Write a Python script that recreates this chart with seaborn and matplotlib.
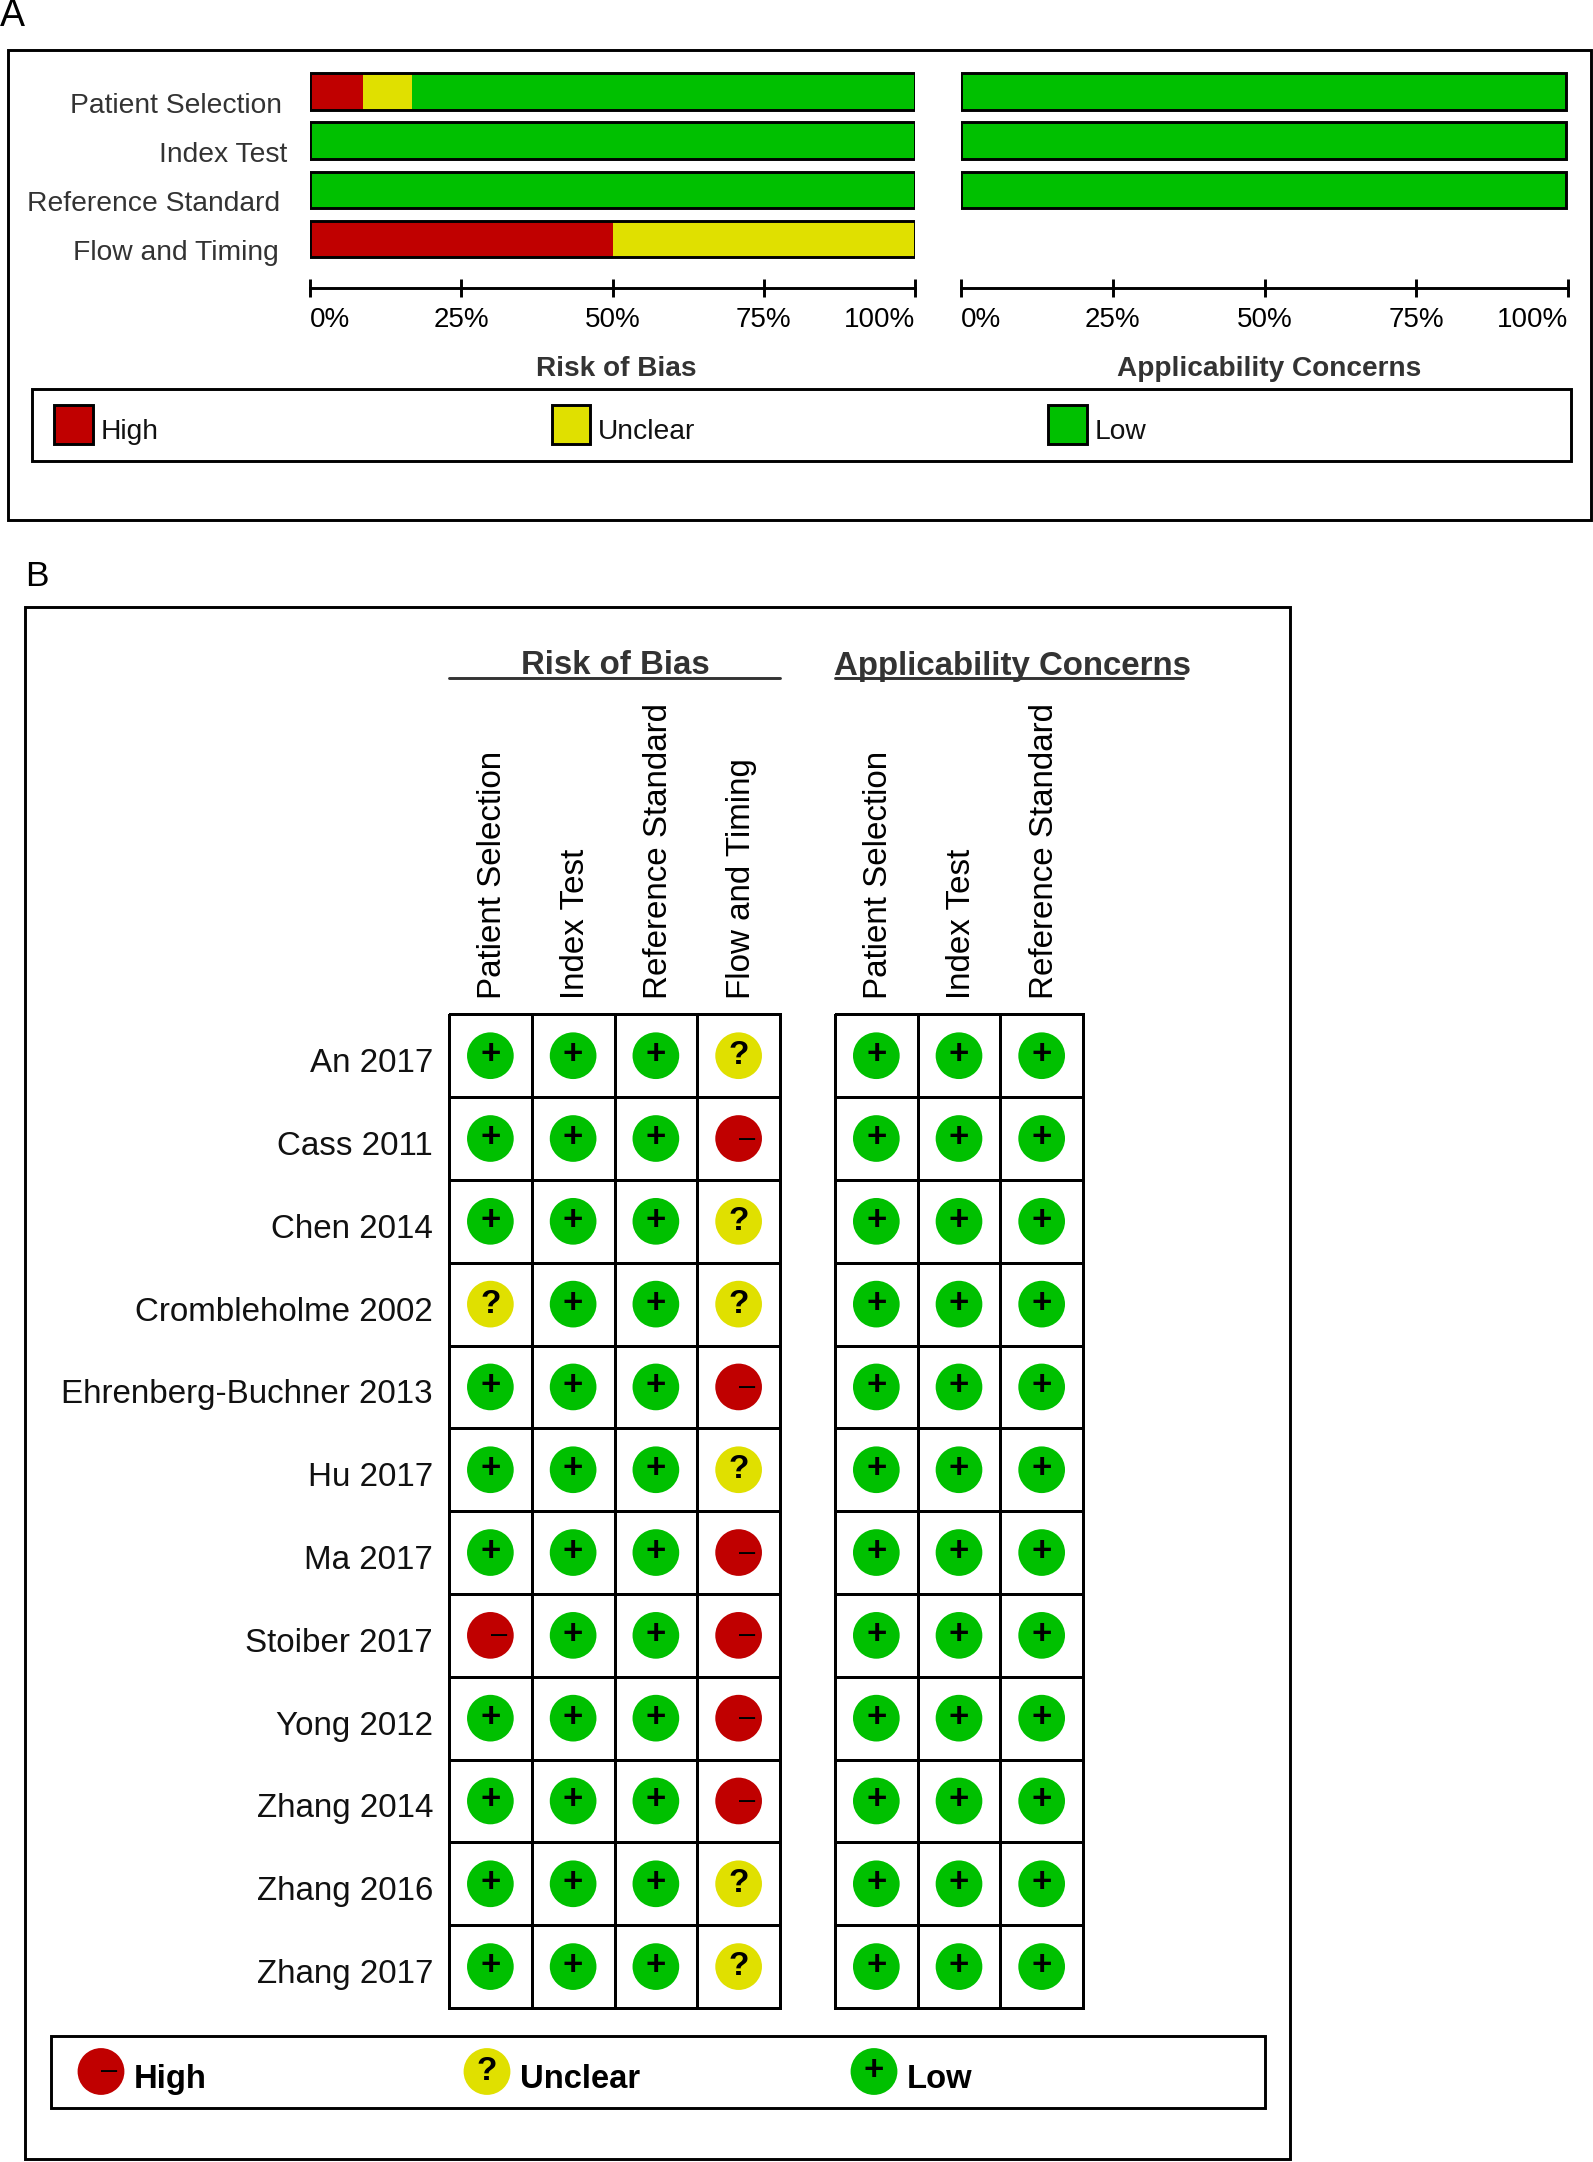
"""QUADAS-2 risk of bias summary: stacked bars (A) and per-study grid (B)."""

import numpy as np
import pandas as pd
import seaborn as sns
import matplotlib.pyplot as plt
from matplotlib.patches import Rectangle, Circle
from matplotlib.transforms import ScaledTranslation

# ---------------------------------------------------------------------
# Data
# ---------------------------------------------------------------------
DOMAINS = ["Patient Selection", "Index Test", "Reference Standard", "Flow and Timing"]
RISK_HIGH = [8.8, 0, 0, 50]
RISK_UNCLEAR = [8.1, 0, 0, 50]
RISK_LOW = [83.1, 100, 100, 0]
APPLIC_LOW = [99.6, 99.6, 99.6, np.nan]

PCT_TICKS = [0, 25, 50, 75, 100]
PCT_LABELS = ["0%", "25%", "50%", "75%", "100%"]

STUDIES = [
    "An 2017", "Cass 2011", "Chen 2014", "Crombleholme 2002",
    "Ehrenberg-Buchner 2013", "Hu 2017", "Ma 2017", "Stoiber 2017",
    "Yong 2012", "Zhang 2014", "Zhang 2016", "Zhang 2017",
]
L, U, H = "Low", "Unclear", "High"
RISK_PATIENT = [L, L, L, U, L, L, L, H, L, L, L, L]
RISK_INDEX = [L] * 12
RISK_REFERENCE = [L] * 12
RISK_FLOW = [U, H, U, U, H, U, H, H, H, H, U, U]
APPLIC_PATIENT = [L] * 12
APPLIC_INDEX = [L] * 12
APPLIC_REFERENCE = [L] * 12

LEVELS = [H, U, L]
COLORS = {H: "#C00000", U: "#E0E000", L: "#00C000"}
SYMBOLS = {H: "–", U: "?", L: "+"}

# ---------------------------------------------------------------------
# Figure setup (everything below is laid out in reference pixels)
# ---------------------------------------------------------------------
W, HT = 1593, 2162
sns.set_theme(style="white")
plt.rcParams["font.family"] = ["Liberation Sans", "DejaVu Sans"]
fig = plt.figure(figsize=(W / 100, HT / 100), dpi=100, facecolor="white")

LW = 2.1
DARK = "#333333"


def px_axes(x0, y0, x1, y1, **kwargs):
    """Axes placed by pixel box, y measured from the top of the image."""
    return fig.add_axes([x0 / W, 1 - y1 / HT, (x1 - x0) / W, (y1 - y0) / HT], **kwargs)


def draw_symbol(ax, x, y, level, dx_minus, dy_plus):
    """Put the -, ? or + glyph on a rating circle."""
    if level == H:
        ax.text(x + dx_minus, y, SYMBOLS[H], fontsize=21, ha="center", va="center", color="black")
    elif level == U:
        ax.text(x, y, SYMBOLS[U], fontsize=24, fontweight="bold", ha="center",
                va="center", color="black")
    else:
        ax.text(x, y + dy_plus, SYMBOLS[L], fontsize=25, fontweight="bold", ha="center",
                va="center", color="black")


def plot_bars(ax, layers):
    """Stack by overdrawing cumulative bars, then add the black outline."""
    for values, color in layers:
        sns.barplot(x=values, y=DOMAINS, order=DOMAINS, orient="h", color=color,
                    saturation=1, width=0.745, errorbar=None, linewidth=0, ax=ax)
    totals = layers[0][0]
    sns.barplot(x=totals, y=DOMAINS, order=DOMAINS, orient="h", color="black", fill=False,
                width=0.745, errorbar=None, linewidth=LW, ax=ax)
    ax.set_xlim(0, 100)
    ax.set_ylim(3.5, -0.5)
    ax.set_xlabel("")
    ax.set_ylabel("")
    ax.patch.set_alpha(0)
    for side in ["top", "left", "right"]:
        ax.spines[side].set_visible(False)
    ax.spines["bottom"].set_position(("outward", 17.3))
    ax.spines["bottom"].set_linewidth(LW)
    ax.spines["bottom"].set_color("black")
    ax.set_xticks(PCT_TICKS, PCT_LABELS, fontsize=20, color="black")
    ax.tick_params(axis="x", direction="inout", length=13, width=LW, pad=7.5,
                   bottom=True, color="black")
    aligns = ["left", "center", "center", "center", "right"]
    for lab, ha in zip(ax.get_xticklabels(), aligns):
        lab.set_ha(ha)


def plot_grid(ax, columns, ratings, show_rows):
    """Heatmap supplies the cell grid, scatterplot the rating circles."""
    blank = pd.DataFrame(np.zeros((len(STUDIES), len(columns))), index=STUDIES, columns=columns)
    sns.heatmap(blank, cmap=["white"], cbar=False, linewidths=LW, linecolor="black",
                yticklabels=show_rows, ax=ax)
    ax.collections[0].set_clip_on(False)
    ax.collections[0].set_antialiased(True)

    long = pd.DataFrame({
        "col": np.repeat(np.arange(len(columns)) + 0.5, len(STUDIES)),
        "row": np.tile(np.arange(len(STUDIES)) + 0.5, len(columns)),
        "rating": np.concatenate(ratings),
    })
    sns.scatterplot(data=long, x="col", y="row", hue="rating", hue_order=LEVELS, palette=COLORS,
                    s=1130, linewidth=0, legend=False, zorder=3, clip_on=False, ax=ax)
    ax.set_xlim(0, len(columns))
    ax.set_ylim(len(STUDIES), 0)
    ax.set_xlabel("")
    ax.set_ylabel("")

    # one cell is 83 px wide, so offsets are given in cell units
    for _, item in long.iterrows():
        draw_symbol(ax, item["col"], item["row"], item["rating"], 8.7 / 83, -1 / 83)

    ax.xaxis.tick_top()
    ax.set_xticks(np.arange(len(columns)) + 0.5, columns, rotation=90, fontsize=23.9,
                  color="black", ha="center", va="bottom")
    ax.tick_params(axis="x", length=0, pad=10.8, top=False)
    shift = ScaledTranslation(2.5 / 100, 0, fig.dpi_scale_trans)
    for lab in ax.get_xticklabels():
        lab.set_transform(lab.get_transform() + shift)
    if show_rows:
        ax.set_yticks(np.arange(len(STUDIES)) + 0.5, STUDIES, rotation=0, fontsize=23.9,
                      color="#111111", va="center")
        ax.tick_params(axis="y", length=0, pad=11.5)
        drop = ScaledTranslation(0, -8 / 100, fig.dpi_scale_trans)
        for lab in ax.get_yticklabels():
            lab.set_transform(lab.get_transform() + drop)
    else:
        ax.set_yticks([])


# ---------------------------------------------------------------------
# Frames, legends and headings on a pixel overlay
# ---------------------------------------------------------------------
over = px_axes(0, 0, W, HT)
over.set_xlim(0, W)
over.set_ylim(HT, 0)
over.axis("off")


def box(x0, y0, x1, y1, lw=LW):
    over.add_patch(Rectangle((x0, y0), x1 - x0, y1 - y0, fill=False, ec="black", lw=lw))


over.text(0, 26, "A", fontsize=27, color="black", ha="left", va="baseline")
over.text(25, 586, "B", fontsize=25.5, color="black", ha="left", va="baseline")

box(8, 50, 1591, 520)
box(31.5, 389, 1571, 461)
box(24.5, 606.5, 1289.5, 2159)
box(51, 2036, 1265, 2107.5)

for x, level in zip([54, 551.5, 1048], LEVELS):
    over.add_patch(Rectangle((x, 405), 38.5, 38.5, fc=COLORS[level], ec="black", lw=LW))
    over.text(x + 46.5, 432, level, fontsize=20.3, color="#111111", ha="left", va="center")

over.text(616, 368.5, "Risk of Bias", fontsize=20.2, fontweight="bold", color=DARK,
          ha="center", va="center")
over.text(1269, 368.5, "Applicability Concerns", fontsize=20.2, fontweight="bold", color=DARK,
          ha="center", va="center")

over.text(615.5, 666, "Risk of Bias", fontsize=23.8, fontweight="bold", color=DARK,
          ha="center", va="center")
over.text(1012.5, 666, "Applicability Concerns", fontsize=23.8, fontweight="bold", color=DARK,
          ha="center", va="center")
over.plot([449, 780], [678, 678], color=DARK, lw=LW)
over.plot([835, 1183], [678, 678], color=DARK, lw=LW)

for x, level in zip([101, 487, 874], LEVELS):
    over.add_patch(Circle((x, 2071.5), 23.4, fc=COLORS[level], ec="none"))
    draw_symbol(over, x, 2071.5, level, 8, -1)
    over.text(x + 33, 2079.5, level, fontsize=23.6, fontweight="bold", color="black",
              ha="left", va="center")

# ---------------------------------------------------------------------
# Panel A
# ---------------------------------------------------------------------
high = np.array(RISK_HIGH)
unclear = np.array(RISK_UNCLEAR)
low = np.array(RISK_LOW)

ax_risk = px_axes(310, 67.1, 915, 263.6)
plot_bars(ax_risk, [
    (high + unclear + low, COLORS[L]),
    (high + unclear, COLORS[U]),
    (high, COLORS[H]),
])
ax_risk.set_yticks(range(len(DOMAINS)), DOMAINS, fontsize=20.3, color=DARK)
ax_risk.tick_params(axis="y", length=0, pad=0)
for lab, right_edge in zip(ax_risk.get_yticklabels(), [282, 287, 280, 279]):
    lab.set_transform(lab.get_transform() + ScaledTranslation(
        (right_edge - 310) / 100, -11 / 100, fig.dpi_scale_trans))

ax_applic = px_axes(961, 67.1, 1568, 263.6)
plot_bars(ax_applic, [(np.array(APPLIC_LOW, dtype=float), COLORS[L])])
ax_applic.set_yticks([])

# ---------------------------------------------------------------------
# Panel B
# ---------------------------------------------------------------------
ax_grid1 = px_axes(449, 1014.3, 780, 2008)
plot_grid(ax_grid1, DOMAINS, [RISK_PATIENT, RISK_INDEX, RISK_REFERENCE, RISK_FLOW], True)

ax_grid2 = px_axes(835, 1014.3, 1083, 2008)
plot_grid(ax_grid2, DOMAINS[:3], [APPLIC_PATIENT, APPLIC_INDEX, APPLIC_REFERENCE], False)

fig.savefig("out.png", dpi=100, facecolor="white")
